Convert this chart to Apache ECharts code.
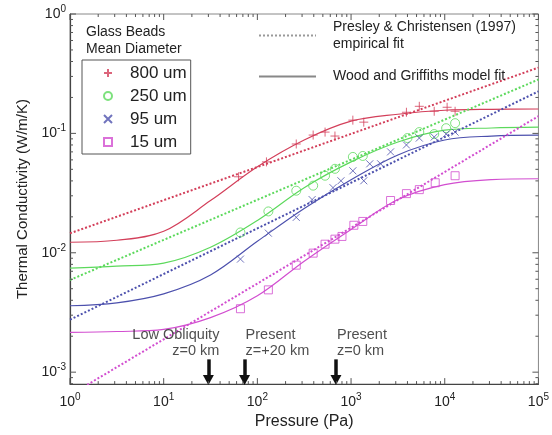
<!DOCTYPE html>
<html>
<head>
<meta charset="utf-8" />
<title>Thermal Conductivity of Glass Beads</title>
<script src="https://cdn.jsdelivr.net/npm/echarts@6/dist/echarts.min.js"></script>
</head>
<body style="margin:0">
<div id="main" style="width:552px;height:435px;"></div>
<script type="text/javascript">
  // measured points: pressure (Pa) / conductivity (W/m/K)
  const p800 = [63, 125, 260, 394, 528, 673, 1045, 1367, 3900, 5350, 7720, 10600, 12900];
  const k800 = [0.0433, 0.0577, 0.0815, 0.0968, 0.1025, 0.095, 0.1291, 0.1242, 0.1503, 0.1686, 0.1532, 0.1655, 0.1532];
  const p250 = [66, 131, 260, 394, 528, 673, 1045, 1334, 4000, 5350, 7720, 10350, 12900];
  const k250 = [0.0148, 0.0222, 0.0331, 0.0365, 0.0442, 0.0505, 0.0635, 0.0647, 0.0914, 0.1025, 0.0987, 0.1106, 0.1218];
  const p95 = [66, 131, 260, 384, 642, 780, 1045, 1367, 1583, 2069, 2641, 3900, 5350, 7720, 10350, 12900];
  const k95 = [0.00885, 0.0146, 0.0198, 0.0279, 0.0351, 0.0401, 0.0486, 0.0401, 0.0556, 0.0556, 0.07, 0.08, 0.0914, 0.0932, 0.0987, 0.1025];
  const p15 = [66, 131, 260, 394, 528, 673, 800, 1071, 1334, 2641, 3900, 5350, 7910, 12900];
  const k15 = [0.0034, 0.00489, 0.00788, 0.00993, 0.0118, 0.013, 0.0137, 0.017, 0.0183, 0.0274, 0.0313, 0.0338, 0.0386, 0.0442];

  // Wood and Griffiths model fit
  const fitP = [1, 3.16, 10, 31.6, 100, 316, 1000, 3162, 10000, 31623, 100000];
  const fit800 = [0.01225, 0.01273, 0.01513, 0.02736, 0.0525, 0.088, 0.1265, 0.1446, 0.1562, 0.1592, 0.16];
  const fit250 = [0.00745, 0.00774, 0.0082, 0.01113, 0.01866, 0.0351, 0.0577, 0.0847, 0.1065, 0.111, 0.1128];
  const fit95 = [0.0036, 0.00381, 0.00453, 0.00651, 0.01248, 0.0235, 0.0409, 0.066, 0.088, 0.095, 0.0968];
  const fit15 = [0.00215, 0.00219, 0.00228, 0.00286, 0.00436, 0.00851, 0.0157, 0.0279, 0.0372, 0.041, 0.0417];

  // Presley & Christensen empirical fit (power law, two ends)
  const empP = [1, 100000];
  const emp800 = [0.01456, 0.3556];
  const emp250 = [0.00592, 0.2825];
  const emp95 = [0.00275, 0.2248];
  const emp15 = [0.000643, 0.1393];

  const sizes = ["800 um", "250 um", "95 um", "15 um"];
  const arrowP = [30, 73, 690];
  const arrowText = ["Low Obliquity\nz=0 km", "Present\nz=+20 km", "Present\nz=0 km"];

  const colors = ["#d33f5a", "#5cd95c", "#4c50ad", "#d24ed0"];
  const symbols = [
    "path://M5,0L5,10M0,5L10,5",
    "circle",
    "path://M0,0L10,10M10,0L0,10",
    "path://M0,0L10,0L10,10L0,10Z",
  ];
  const symSize = [9, 9, 7, 8];
  const font = "Liberation Sans";
  const yMin = Math.pow(10, -3.1);
  const pcName = "Presley & Christensen (1997)\nempirical fit";
  const wgName = "Wood and Griffiths model fit";

  const pts = (xs, ys) => xs.map((x, i) => [x, ys[i]]);
  const measured = [pts(p800, k800), pts(p250, k250), pts(p95, k95), pts(p15, k15)];
  const fits = [fit800, fit250, fit95, fit15];
  const emps = [emp800, emp250, emp95, emp15];

  const myChart = echarts.init(document.getElementById("main"));

  const logLabel = function(v) {
    const n = Math.log10(v);
    const r = Math.round(n);
    if (Math.abs(n - r) > 1e-6) return "";
    return "{b|10}{s|" + r + "}";
  };
  const labelRich = {
    b: { fontSize: 14, lineHeight: 20, color: "#222", fontFamily: font },
    s: { fontSize: 10, verticalAlign: "top", color: "#222", fontFamily: font },
  };

  const seg = (x1, y1, x2, y2) => ({
    type: "line",
    shape: { x1: x1, y1: y1, x2: x2, y2: y2 },
    style: { stroke: "#555", lineWidth: 1 },
  });

  const series = [];
  // model fits
  fits.forEach((f, i) => {
    series.push({
      name: "fit" + i,
      type: "line",
      data: pts(fitP, f),
      symbol: "none",
      smooth: 0.35,
      lineStyle: { color: colors[i], width: 1.2 },
      z: 2,
    });
  });
  // empirical fits
  emps.forEach((f, i) => {
    series.push({
      name: "emp" + i,
      type: "line",
      data: pts(empP, f),
      symbol: "none",
      lineStyle: { color: colors[i], width: 2, type: [2, 2] },
      z: 2,
    });
  });
  // data points
  measured.forEach((d, i) => {
    series.push({
      name: sizes[i],
      type: "scatter",
      data: d,
      symbol: symbols[i],
      symbolSize: symSize[i],
      symbolKeepAspect: true,
      itemStyle: { color: "transparent", borderColor: colors[i], borderWidth: 1 },
      z: 3,
    });
  });
  // legend only entries
  series.push({
    name: pcName,
    type: "line",
    data: [],
    symbol: "none",
    color: "#999",
    lineStyle: { color: "#999", width: 2, type: [2, 2] },
  });
  series.push({
    name: wgName,
    type: "line",
    data: [],
    symbol: "none",
    color: "#888",
    lineStyle: { color: "#888", width: 1.2 },
  });
  // arrows and their notes
  series.push({
    name: "notes",
    type: "scatter",
    symbolSize: 0,
    silent: true,
    data: arrowP.map((p, i) => ({
      value: [p, 0.00177],
      label: {
        show: true,
        position: "inside",
        align: i === 0 ? "right" : "left",
        offset: i === 0 ? [11, 0] : [1, 0],
        formatter: arrowText[i],
        fontSize: 14.5,
        lineHeight: 16,
        color: "#222",
        fontFamily: font,
      },
    })),
    markLine: {
      silent: true,
      animation: false,
      symbol: ["none", "triangle"],
      symbolSize: [11, 10],
      label: { show: false },
      lineStyle: { color: "#111", width: 3.5, type: "solid" },
      data: arrowP.map(p => [{ coord: [p, 0.00128] }, { coord: [p, 0.00086] }]),
    },
    z: 4,
  });
  // inward ticks on all four sides
  series.push({
    name: "ticks",
    type: "custom",
    silent: true,
    data: [[1, 1]],
    z: 5,
    renderItem: function(params, api) {
      const cs = params.coordSys;
      const left = cs.x, right = cs.x + cs.width;
      const top = cs.y, bottom = cs.y + cs.height;
      const kids = [];
      for (let e = 0; e <= 5; e++) {
        for (let m = 1; m <= 9; m++) {
          const v = m * Math.pow(10, e);
          if (v > 1e5) break;
          const x = api.coord([v, 1])[0];
          const len = m === 1 ? 6 : 3;
          kids.push(seg(x, bottom, x, bottom - len), seg(x, top, x, top + len));
        }
      }
      for (let e = -4; e <= 0; e++) {
        for (let m = 1; m <= 9; m++) {
          const v = m * Math.pow(10, e);
          if (v < yMin || v > 1.0000001) continue;
          const y = api.coord([1, v])[1];
          const len = m === 1 ? 6 : 3;
          kids.push(seg(left, y, left + len, y), seg(right, y, right - len, y));
        }
      }
      return { type: "group", children: kids };
    },
  });

  const option = {
    animation: false,
    textStyle: { fontFamily: font },
    title: {
      text: "Glass Beads\nMean Diameter",
      left: 86,
      top: 24,
      padding: 0,
      textStyle: { fontSize: 14, lineHeight: 17, fontWeight: "normal", color: "#222", fontFamily: font },
    },
    legend: [
      {
        data: sizes,
        orient: "vertical",
        left: 82,
        top: 60,
        padding: [4, 4, 3, 21],
        itemWidth: 34,
        itemHeight: 8,
        itemGap: 5,
        borderColor: "#555",
        borderWidth: 1,
        selectedMode: false,
        textStyle: { fontSize: 17, lineHeight: 18, color: "#222", fontFamily: font },
      },
      {
        data: [
          { name: pcName, itemStyle: { opacity: 0 }, textStyle: { padding: [11, 0, 0, 12] } },
          { name: wgName, itemStyle: { opacity: 0 }, textStyle: { padding: [0, 0, 0, 12] } },
        ],
        orient: "vertical",
        left: 258,
        top: 13,
        padding: 0,
        itemWidth: 57,
        itemHeight: 10,
        itemGap: 10,
        selectedMode: false,
        textStyle: { fontSize: 14, lineHeight: 17, color: "#222", fontFamily: font },
      },
    ],
    grid: {
      left: 70,
      right: 10,
      top: 14,
      bottom: 48,
      show: true,
      borderColor: "#888",
      borderWidth: 1,
    },
    xAxis: {
      type: "log",
      min: 1,
      max: 100000,
      name: "Pressure (Pa)",
      nameLocation: "middle",
      nameGap: 27,
      nameTextStyle: { fontSize: 16, color: "#222", fontFamily: font },
      axisLine: { lineStyle: { color: "#444", width: 1.2 } },
      axisTick: { show: false },
      splitLine: { show: false },
      axisLabel: { formatter: logLabel, rich: labelRich, margin: 8, showMinLabel: true, showMaxLabel: true },
    },
    yAxis: {
      type: "log",
      min: yMin,
      max: 1,
      name: "Thermal Conductivity (W/m/K)",
      nameLocation: "middle",
      nameGap: 35,
      nameTextStyle: { fontSize: 15, color: "#222", fontFamily: font },
      axisLine: { lineStyle: { color: "#444", width: 1.2 } },
      axisTick: { show: false },
      splitLine: { show: false },
      axisLabel: { formatter: logLabel, rich: labelRich, margin: 4, showMinLabel: true, showMaxLabel: true },
    },
    series: series,
  };
  myChart.setOption(option);
</script>
</body>
</html>
